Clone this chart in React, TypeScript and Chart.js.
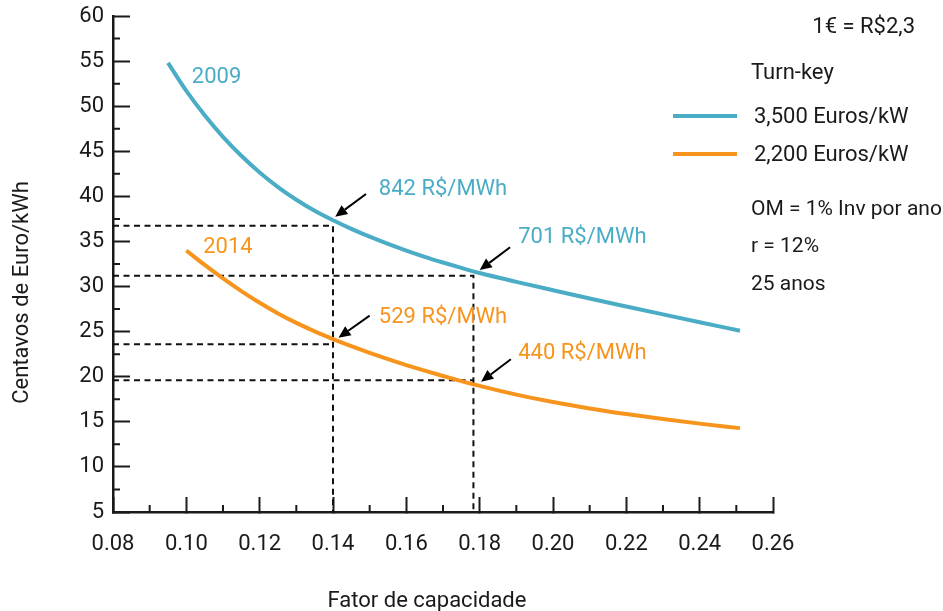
import React, { useEffect, useRef } from 'react';
import { Chart, registerables } from 'chart.js';

Chart.register(...registerables);

const FONT = 'Roboto, "Liberation Sans", sans-serif';
const BLUE = '#4BACC6';
const ORANGE = '#F7941D';
const INK = '#1a1a1a';

// Series: capacity factor (x) vs cost in Euro cents/kWh (y)
const capacity2009 = [0.095, 0.100, 0.105, 0.110, 0.115, 0.120, 0.125, 0.130, 0.135, 0.140, 0.145, 0.150, 0.155, 0.160, 0.165, 0.170, 0.175, 0.180, 0.190, 0.200, 0.210, 0.220, 0.230, 0.240, 0.251];
const cost2009 = [54.8, 51.7, 49.0, 46.6, 44.5, 42.65, 41.03, 39.62, 38.4, 37.35, 36.4, 35.53, 34.73, 33.99, 33.3, 32.67, 32.07, 31.5, 30.52, 29.59, 28.68, 27.79, 26.91, 26.04, 25.1];
const capacity2014 = [0.100, 0.105, 0.110, 0.115, 0.120, 0.125, 0.130, 0.135, 0.140, 0.145, 0.150, 0.155, 0.160, 0.165, 0.170, 0.175, 0.180, 0.190, 0.200, 0.210, 0.220, 0.230, 0.240, 0.251];
const cost2014 = [34.0, 32.4, 30.9, 29.5, 28.2, 27.02, 25.97, 25.03, 24.18, 23.39, 22.65, 21.95, 21.29, 20.67, 20.08, 19.52, 18.99, 18.02, 17.19, 16.48, 15.86, 15.31, 14.8, 14.3];

const xTicks = [0.08, 0.10, 0.12, 0.14, 0.16, 0.18, 0.20, 0.22, 0.24, 0.26];
const yTicks = [5, 10, 15, 20, 25, 30, 35, 40, 45, 50, 55, 60];
const xMinorTicks = [0.09, 0.11, 0.13, 0.15, 0.17, 0.19, 0.21, 0.23, 0.25];
const yMinorTicks = [7.5, 12.5, 17.5, 22.5, 27.5, 32.5, 37.5, 42.5, 47.5, 52.5, 57.5];

// Dashed guides
const guideX = [0.14, 0.1783];
const guideY = [36.75, 31.2, 23.6, 19.6];

// Price annotations
const priceLabels = ['842 R$/MWh', '701 R$/MWh', '529 R$/MWh', '440 R$/MWh'];
const priceSeries = [0, 0, 1, 1];
const priceLabelX = [0.1525, 0.1905, 0.1525, 0.1905];
const priceLabelY = [40.15, 34.79, 25.92, 21.93];
const arrowTailX = [0.149, 0.1883, 0.150, 0.1885];
const arrowTailY = [40.26, 34.35, 26.77, 21.93];
const arrowTipX = [0.1406, 0.1800, 0.1415, 0.1804];
const arrowTipY = [37.74, 31.83, 24.33, 19.45];

const yearLabels = ['2009', '2014'];
const yearLabelX = [0.1015, 0.1046];
const yearLabelY = [52.54, 33.69];

const legendLabels = ['3,500 Euros/kW', '2,200 Euros/kW'];
const exchangeNote = '1€ = R$2,3';
const legendTitle = 'Turn-key';
const notes = ['OM = 1% Inv por ano', 'r = 12%', '25 anos'];

const xTitle = 'Fator de capacidade';
const yTitle = 'Centavos de Euro/kWh';

const toPoints = (xs: number[], ys: number[]) => xs.map((x, i) => ({ x, y: ys[i] }));

const decorPlugin = {
  id: 'decor',
  afterDraw(chart: any) {
    const { ctx, scales } = chart;
    const xs = scales.x;
    const ys = scales.y;
    const colors = [BLUE, ORANGE];
    ctx.save();

    // minor ticks
    ctx.strokeStyle = INK;
    ctx.lineWidth = 2;
    ctx.beginPath();
    const axisY = ys.getPixelForValue(5);
    const axisX = xs.getPixelForValue(0.08);
    xMinorTicks.forEach((v) => {
      const px = xs.getPixelForValue(v);
      ctx.moveTo(px, axisY);
      ctx.lineTo(px, axisY - 7);
    });
    yMinorTicks.forEach((v) => {
      const py = ys.getPixelForValue(v);
      ctx.moveTo(axisX, py);
      ctx.lineTo(axisX + 7, py);
    });
    ctx.stroke();

    // arrows
    ctx.fillStyle = '#000';
    ctx.strokeStyle = '#000';
    ctx.lineWidth = 2;
    for (let i = 0; i < arrowTailX.length; i++) {
      const x1 = xs.getPixelForValue(arrowTailX[i]);
      const y1 = ys.getPixelForValue(arrowTailY[i]);
      const x2 = xs.getPixelForValue(arrowTipX[i]);
      const y2 = ys.getPixelForValue(arrowTipY[i]);
      const ang = Math.atan2(y2 - y1, x2 - x1);
      const hl = 12;
      const hw = 5.5;
      const bx = x2 - hl * Math.cos(ang);
      const by = y2 - hl * Math.sin(ang);
      ctx.beginPath();
      ctx.moveTo(x1, y1);
      ctx.lineTo(bx, by);
      ctx.stroke();
      ctx.beginPath();
      ctx.moveTo(x2, y2);
      ctx.lineTo(bx + hw * Math.sin(ang), by - hw * Math.cos(ang));
      ctx.lineTo(bx - hw * Math.sin(ang), by + hw * Math.cos(ang));
      ctx.closePath();
      ctx.fill();
    }

    // in-plot labels
    ctx.font = `22px ${FONT}`;
    ctx.textBaseline = 'alphabetic';
    ctx.textAlign = 'left';
    priceLabels.forEach((t, i) => {
      ctx.fillStyle = colors[priceSeries[i]];
      ctx.fillText(t, xs.getPixelForValue(priceLabelX[i]), ys.getPixelForValue(priceLabelY[i]));
    });
    yearLabels.forEach((t, i) => {
      ctx.fillStyle = colors[i];
      ctx.fillText(t, xs.getPixelForValue(yearLabelX[i]), ys.getPixelForValue(yearLabelY[i]));
    });

    // right panel
    ctx.fillStyle = INK;
    ctx.textAlign = 'right';
    ctx.fillText(exchangeNote, 915, 33);
    ctx.textAlign = 'left';
    ctx.fillText(legendTitle, 751, 79);
    const legendY = [116, 154];
    const legendBase = [123.3, 161];
    legendLabels.forEach((t, i) => {
      ctx.strokeStyle = colors[i];
      ctx.lineWidth = 4;
      ctx.beginPath();
      ctx.moveTo(673, legendY[i]);
      ctx.lineTo(737, legendY[i]);
      ctx.stroke();
      ctx.fillStyle = INK;
      ctx.fillText(t, 754, legendBase[i]);
    });
    ctx.font = `21px ${FONT}`;
    const noteBase = [215, 251.7, 290];
    notes.forEach((t, i) => ctx.fillText(t, 751, noteBase[i]));

    // axis titles
    ctx.font = `22px ${FONT}`;
    ctx.textAlign = 'center';
    ctx.fillText(xTitle, 427, 606.5);
    ctx.translate(28, 292.5);
    ctx.rotate(-Math.PI / 2);
    ctx.fillText(yTitle, 0, 0);
    ctx.restore();
  },
};

export default function App() {
  const canvasRef = useRef<HTMLCanvasElement | null>(null);

  useEffect(() => {
    if (!canvasRef.current) return;
    const dashed = (data: { x: number; y: number }[]) => ({
      data,
      borderColor: '#111',
      borderWidth: 2,
      borderDash: [6, 4.5],
      pointRadius: 0,
      fill: false,
      tension: 0,
      order: 2,
    });
    const chart = new Chart(canvasRef.current, {
      type: 'line',
      data: {
        datasets: [
          {
            label: legendLabels[0],
            data: toPoints(capacity2009, cost2009),
            borderColor: BLUE,
            borderWidth: 4,
            pointRadius: 0,
            cubicInterpolationMode: 'monotone',
            fill: false,
            order: 0,
          },
          {
            label: legendLabels[1],
            data: toPoints(capacity2014, cost2014),
            borderColor: ORANGE,
            borderWidth: 4,
            pointRadius: 0,
            cubicInterpolationMode: 'monotone',
            fill: false,
            order: 0,
          },
          dashed([{ x: 0.08, y: guideY[0] }, { x: guideX[0], y: guideY[0] }, { x: guideX[0], y: 5 }]),
          dashed([{ x: 0.08, y: guideY[1] }, { x: guideX[1], y: guideY[1] }, { x: guideX[1], y: 5 }]),
          dashed([{ x: 0.08, y: guideY[2] }, { x: guideX[0], y: guideY[2] }]),
          dashed([{ x: 0.08, y: guideY[3] }, { x: guideX[1], y: guideY[3] }]),
        ] as any,
      },
      options: {
        animation: false,
        responsive: false,
        devicePixelRatio: 1,
        layout: { padding: { left: 0, top: 16, right: 170, bottom: 0 } },
        plugins: { legend: { display: false }, tooltip: { enabled: false } },
        scales: {
          x: {
            type: 'linear',
            min: 0.08,
            max: 0.26,
            afterBuildTicks: (s: any) => {
              s.ticks = xTicks.map((value) => ({ value }));
            },
            afterFit: (s: any) => {
              s.height = 99;
              s.paddingLeft = 0;
              s.paddingRight = 0;
            },
            ticks: {
              font: { family: FONT, size: 22 },
              color: INK,
              padding: 34,
              maxRotation: 0,
              autoSkip: false,
              callback: (v: any) => Number(v).toFixed(2),
            },
            grid: {
              display: true,
              drawOnChartArea: false,
              drawTicks: true,
              tickLength: -15,
              tickWidth: 2,
              tickColor: INK,
            },
            border: { display: true, color: INK, width: 2.5 },
          },
          y: {
            type: 'linear',
            min: 5,
            max: 60,
            afterBuildTicks: (s: any) => {
              s.ticks = yTicks.map((value) => ({ value }));
            },
            afterFit: (s: any) => {
              s.width = 113;
              s.paddingTop = 0;
              s.paddingBottom = 0;
            },
            ticks: {
              font: { family: FONT, size: 22 },
              color: INK,
              padding: 26,
              autoSkip: false,
              callback: (v: any) => String(v),
            },
            grid: {
              display: true,
              drawOnChartArea: false,
              drawTicks: true,
              tickLength: -17,
              tickWidth: 2,
              tickColor: INK,
            },
            border: { display: true, color: INK, width: 2.5 },
          },
        },
      } as any,
      plugins: [decorPlugin],
    });
    return () => chart.destroy();
  }, []);

  return (
    <div style={{ position: 'fixed', left: 0, top: 0, width: 943, height: 611, background: '#fff' }}>
      <canvas ref={canvasRef} width={943} height={611} />
    </div>
  );
}
